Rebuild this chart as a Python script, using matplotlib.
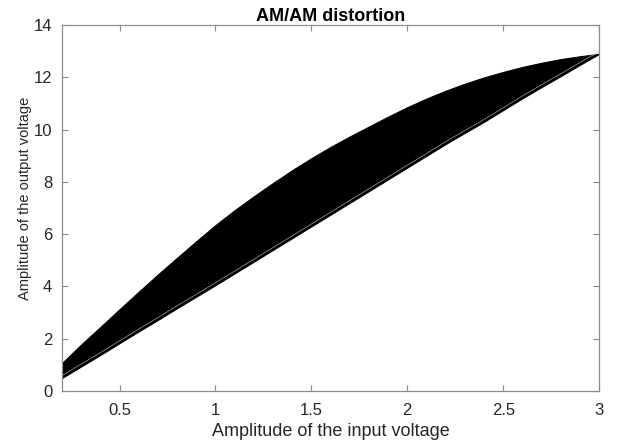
import numpy as np
import matplotlib
matplotlib.use('Agg')
import matplotlib.pyplot as plt

plt.rcParams['font.family'] = ['Liberation Sans', 'DejaVu Sans']

# amplitude in / out
amp_in = [0.2, 0.3, 0.4, 0.5, 0.6, 0.7, 0.8, 0.9, 1.0, 1.1, 1.2, 1.3, 1.4, 1.5, 1.6,
          1.7, 1.8, 1.9, 2.0, 2.1, 2.2, 2.3, 2.4, 2.5, 2.6, 2.7, 2.8, 2.9, 3.0]
out_upper = [1.07, 1.78, 2.45, 3.13, 3.8, 4.46, 5.1, 5.73, 6.35, 6.92, 7.45, 7.96, 8.45, 8.91, 9.34,
             9.74, 10.12, 10.5, 10.86, 11.19, 11.49, 11.76, 12.0, 12.21, 12.4, 12.56, 12.7, 12.81, 12.9]
out_lower = [0.5, 0.94, 1.38, 1.83, 2.28, 2.72, 3.17, 3.61, 4.05, 4.5, 4.95, 5.4, 5.85, 6.3, 6.75,
             7.2, 7.65, 8.1, 8.55, 9.0, 9.45, 9.88, 10.3, 10.75, 11.2, 11.63, 12.05, 12.48, 12.9]

xticks = [0.5, 1, 1.5, 2, 2.5, 3]
xtick_labels = ['0.5', '1', '1.5', '2', '2.5', '3']
yticks = [0, 2, 4, 6, 8, 10, 12, 14]

fig = plt.figure(figsize=(6.17, 4.41), dpi=100)
ax = fig.add_axes([0.1005, 0.1134, 0.8705, 0.8296])

x = np.array(amp_in)
up = np.array(out_upper)
lo = np.array(out_lower)
ax.fill_between(x, lo, up, color='black', lw=0.8, edgecolor='black')
# faint light line just inside the lower edge
ax.plot(x, lo + 0.09, color='#c8c8c8', lw=0.4)
ax.plot(x, lo, color='black', lw=0.7)

ax.set_xlim(0.2, 3)
ax.set_ylim(0, 14)
ax.set_xticks(xticks)
ax.set_xticklabels(xtick_labels)
ax.set_yticks(yticks)

for s in ax.spines.values():
    s.set_color('#8c8c8c')
    s.set_linewidth(0.9)
ax.tick_params(direction='in', top=True, right=True, length=4, width=0.8,
               color='#8c8c8c', labelsize=12, labelcolor='#262626')
ax.tick_params(axis='x', pad=9)
ax.tick_params(axis='y', pad=7)

ax.set_title('AM/AM distortion', fontsize=13, fontweight='bold', pad=3)
ax.set_xlabel('Amplitude of the input voltage', fontsize=13, color='#262626', labelpad=3)
ax.set_ylabel('Amplitude of the output voltage', fontsize=10.5, color='#262626')
ax.yaxis.set_label_coords(-0.056, 0.527)

fig.savefig('out.png', dpi=100)
